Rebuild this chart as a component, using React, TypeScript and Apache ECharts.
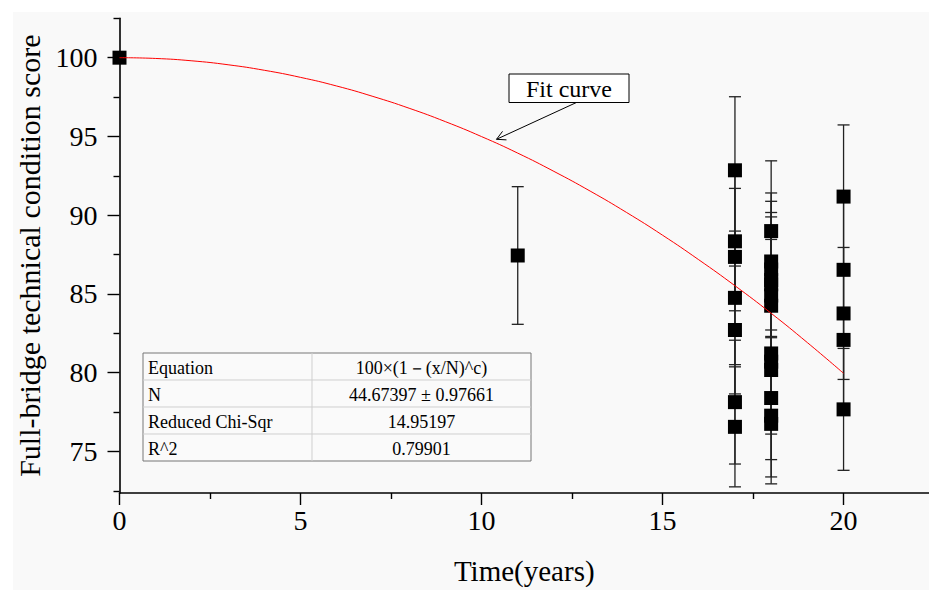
import React, { useEffect, useRef } from 'react';
import * as echarts from 'echarts';

// Measured points: year, score, error (half-length of error bar)
const years = [
  0, 11,
  17, 17, 17, 17, 17, 17, 17,
  18, 18, 18, 18, 18, 18, 18, 18, 18, 18, 18, 18, 18,
  20, 20, 20, 20, 20,
];
const scores = [
  100, 87.44,
  92.85, 88.34, 87.35, 84.75, 82.71, 78.13, 76.56,
  88.99, 87.06, 86.55, 85.88, 85.61, 84.9, 84.25, 81.22, 80.7, 80.17, 78.39, 77.27, 76.75,
  91.18, 86.53, 83.76, 82.08, 77.67,
];
const errors = [
  0, 4.37,
  4.67, 4.41, 4.35, 4.24, 4.06, 3.93, 3.81,
  4.46, 4.35, 4.33, 4.29, 4.28, 4.25, 4.21, 4.06, 4.04, 4.07, 3.91, 3.89, 3.81,
  4.55, 4.33, 4.19, 4.1, 3.87,
];

// Fit curve
const fitYears = [0, 1, 2, 3, 4, 5, 6, 7, 8, 9, 10, 11, 12, 13, 14, 15, 16, 17, 18, 19, 20];
const fitScores = [
  100, 99.95, 99.8, 99.55, 99.2, 98.75, 98.2, 97.54, 96.79, 95.94, 94.99,
  93.94, 92.78, 91.53, 90.18, 88.73, 87.17, 85.52, 83.77, 81.91, 79.96,
];

const xMajorTicks = [0, 5, 10, 15, 20];
const xMinorTicks = [2.5, 7.5, 12.5, 17.5];
const yMajorTicks = [75, 80, 85, 90, 95, 100];
const yMinorTicks = [72.5, 77.5, 82.5, 87.5, 92.5, 97.5, 102.5];

const tableLabels = ['Equation', 'N', 'Reduced Chi-Sqr', 'R^2'];
const tableValues = ['100×(1－(x/N)^c)', '44.67397 ± 0.97661', '14.95197', '0.79901'];

const SERIF = "'Liberation Serif', 'Times New Roman', serif";

export default function App() {
  const ref = useRef<HTMLDivElement>(null);

  useEffect(() => {
    if (!ref.current) return;
    const chart = echarts.init(ref.current, undefined, { renderer: 'svg' });

    const pointData = years.map((x, i) => [x, scores[i], errors[i]]);
    const fitData = fitYears.map((x, i) => [x, fitScores[i]]);

    // table graphic
    const tX = 143, tY = 353, tW = 388, rowH = 27, divX = 312;
    const tableChildren: any[] = [
      { type: 'rect', shape: { x: tX, y: tY, width: tW, height: rowH * 4 }, style: { fill: '#fafafa', stroke: '#777', lineWidth: 1 } },
      { type: 'line', shape: { x1: divX, y1: tY, x2: divX, y2: tY + rowH * 4 }, style: { stroke: '#cfcfcf', lineWidth: 1 } },
    ];
    for (let r = 1; r < 4; r++) {
      tableChildren.push({ type: 'line', shape: { x1: tX, y1: tY + rowH * r, x2: tX + tW, y2: tY + rowH * r }, style: { stroke: '#cfcfcf', lineWidth: 1 } });
    }
    tableLabels.forEach((lab, r) => {
      tableChildren.push({ type: 'text', x: tX + 5, y: tY + rowH * r + rowH / 2 + 1, style: { text: lab, font: `18px ${SERIF}`, fill: '#000', textVerticalAlign: 'middle', textAlign: 'left' } });
      tableChildren.push({ type: 'text', x: (divX + tX + tW) / 2, y: tY + rowH * r + rowH / 2 + 1, style: { text: tableValues[r], font: `18px ${SERIF}`, fill: '#000', textVerticalAlign: 'middle', textAlign: 'center' } });
    });

    // arrow
    const tip = [496.5, 139.3];
    const tail = [576, 102.7];
    const dx = tail[0] - tip[0], dy = tail[1] - tip[1];
    const len = Math.sqrt(dx * dx + dy * dy);
    const ux = dx / len, uy = dy / len;
    const ang = (28 * Math.PI) / 180, aL = 10;
    const rot = (a: number) => [ux * Math.cos(a) - uy * Math.sin(a), ux * Math.sin(a) + uy * Math.cos(a)];
    const a1 = rot(ang), a2 = rot(-ang);

    const option: any = {
      animation: false,
      backgroundColor: '#ffffff',
      grid: { left: 119.5, right: 0, top: 18.3, bottom: 94, containLabel: false },
      xAxis: [
        {
          type: 'value', min: 0, max: 22.36, position: 'bottom',
          name: 'Time(years)', nameLocation: 'middle', nameGap: 63,
          nameTextStyle: { fontFamily: SERIF, fontSize: 29, color: '#000' },
          axisLine: { show: true, onZero: false, lineStyle: { color: '#000', width: 1.6 } },
          axisTick: { show: true, length: 12, inside: false, customValues: xMajorTicks, lineStyle: { color: '#000', width: 1.4 } },
          axisLabel: { show: true, customValues: xMajorTicks, margin: 13, fontFamily: SERIF, fontSize: 28, color: '#000' },
          splitLine: { show: false },
        },
        {
          type: 'value', min: 0, max: 22.36, position: 'bottom',
          axisLine: { show: false, onZero: false },
          axisTick: { show: true, length: 6, customValues: xMinorTicks, lineStyle: { color: '#000', width: 1.4 } },
          axisLabel: { show: false },
          splitLine: { show: false },
        },
      ],
      yAxis: [
        {
          type: 'value', min: 72.36, max: 102.5, position: 'left',
          name: 'Full-bridge technical condition score', nameLocation: 'middle', nameGap: 72,
          nameTextStyle: { fontFamily: SERIF, fontSize: 30, color: '#000' },
          axisLine: { show: true, onZero: false, lineStyle: { color: '#000', width: 1.6 } },
          axisTick: { show: true, length: 12, customValues: yMajorTicks, lineStyle: { color: '#000', width: 1.4 } },
          axisLabel: { show: true, customValues: yMajorTicks, margin: 22, fontFamily: SERIF, fontSize: 28, color: '#000' },
          splitLine: { show: false },
        },
        {
          type: 'value', min: 72.36, max: 102.5, position: 'left',
          axisLine: { show: false, onZero: false },
          axisTick: { show: true, length: 6, customValues: yMinorTicks, lineStyle: { color: '#000', width: 1.4 } },
          axisLabel: { show: false },
          splitLine: { show: false },
        },
      ],
      series: [
        {
          type: 'custom',
          name: 'error',
          xAxisIndex: 0, yAxisIndex: 0,
          data: pointData,
          encode: { x: 0, y: 1 },
          clip: false,
          z: 2,
          renderItem: (params: any, api: any) => {
            const x = api.value(0), y = api.value(1), e = api.value(2);
            if (!e) return null;
            const top = api.coord([x, y + e]);
            const bot = api.coord([x, y - e]);
            const hw = 6;
            const st = { stroke: '#222', lineWidth: 1.3 };
            return {
              type: 'group',
              children: [
                { type: 'line', shape: { x1: top[0], y1: top[1], x2: bot[0], y2: bot[1] }, style: st },
                { type: 'line', shape: { x1: top[0] - hw, y1: top[1], x2: top[0] + hw, y2: top[1] }, style: st },
                { type: 'line', shape: { x1: bot[0] - hw, y1: bot[1], x2: bot[0] + hw, y2: bot[1] }, style: st },
              ],
            };
          },
        },
        {
          type: 'scatter',
          name: 'score',
          xAxisIndex: 0, yAxisIndex: 0,
          data: pointData.map((d) => [d[0], d[1]]),
          symbol: 'rect',
          symbolSize: 14,
          itemStyle: { color: '#000', opacity: 1 },
          z: 3,
        },
        {
          type: 'line',
          name: 'fit',
          xAxisIndex: 0, yAxisIndex: 0,
          data: fitData,
          smooth: true,
          showSymbol: false,
          symbol: 'none',
          lineStyle: { color: '#ff0000', width: 1 },
          z: 4,
        },
      ],
      graphic: [
        { type: 'rect', z: -100, silent: true, shape: { x: 13, y: 12, width: 916, height: 578 }, style: { fill: '#f9f9f9' } },
        { type: 'group', z: 10, children: tableChildren },
        { type: 'rect', z: 10, shape: { x: 509, y: 74, width: 120, height: 28.5 }, style: { fill: '#ffffff', stroke: '#000', lineWidth: 1 } },
        { type: 'text', z: 11, x: 569, y: 89, style: { text: 'Fit curve', font: `24px ${SERIF}`, fill: '#000', textAlign: 'center', textVerticalAlign: 'middle' } },
        { type: 'line', z: 10, shape: { x1: tail[0], y1: tail[1], x2: tip[0], y2: tip[1] }, style: { stroke: '#000', lineWidth: 1 } },
        { type: 'polyline', z: 10, shape: { points: [[tip[0] + a1[0] * aL, tip[1] + a1[1] * aL], tip, [tip[0] + a2[0] * aL, tip[1] + a2[1] * aL]] }, style: { stroke: '#000', lineWidth: 1, fill: 'none' } },
      ],
    };

    chart.setOption(option);
    return () => chart.dispose();
  }, []);

  return <div ref={ref} style={{ position: 'fixed', left: 0, top: 0, width: 929, height: 590 }} />;
}
